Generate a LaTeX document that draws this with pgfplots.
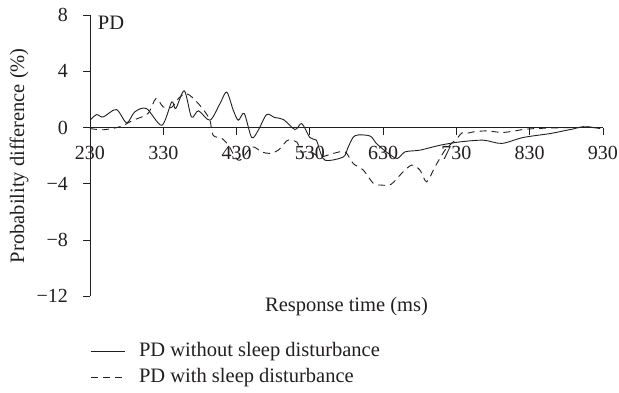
\documentclass[border=0pt]{standalone}
\usepackage{fontspec}
\setmainfont{Liberation Serif}
\usepackage{pgfplots}
\pgfplotsset{compat=1.18}
\definecolor{ink}{HTML}{231F20}
\begin{document}
\begin{tikzpicture}
\useasboundingbox (-90pt,-95.7pt) rectangle (529pt,296.3pt);
\begin{axis}[
  at={(0,0)}, anchor=south west,
  scale only axis, width=513pt, height=281.3pt,
  xmin=230, xmax=930, ymin=-12, ymax=8,
  axis x line*=middle, axis y line*=left,
  axis line style={ink, line width=0.8pt},
  xtick={230,330,430,530,630,730,830,930},
  xticklabels={230,330,430,530,630,730,830,930},
  ytick={-12,-8,-4,0,4,8},
  yticklabels={−12,−8,−4,0,4,8},
  hide obscured x ticks=false, hide obscured y ticks=false,
  tick align=outside, major tick length=7pt,
  tick style={ink, line width=0.8pt},
  every tick label/.append style={font=\fontsize{20}{24}\selectfont, text=ink},
  xticklabel style={inner sep=0pt, anchor=north, yshift=-11pt},
  yticklabel style={inner sep=0pt, anchor=east, xshift=-15pt},
  xlabel={Response time (ms)},
  ylabel={Probability difference (\%)},
  label style={font=\fontsize{20.5}{24}\selectfont, text=ink},
  xlabel style={at={(axis description cs:0.5,0)}, anchor=north, inner sep=0pt, yshift=-1pt},
  ylabel style={at={(axis description cs:-0.1384,0.5)}, anchor=center, inner sep=0pt},
  legend style={at={(axis description cs:0,-0.244)}, anchor=west, draw=none, fill=none,
    inner sep=0pt, font=\fontsize{20.5}{24}\selectfont, text=ink,
    nodes={inner sep=0pt, text height=14pt, text depth=4.5pt, anchor=west},
    row sep=7.5pt, column sep=14pt},
  legend cell align=left,
  legend image code/.code={\draw[#1] (0pt,0pt) -- (34pt,0pt);},
]
\addplot[ink, line width=0.9pt, smooth, tension=0.5] coordinates {
(230,0.52) (239,0.92) (248,0.75) (266,1.28) (280,0.33) (291,1.11) (307,1.35)
(328,0.16) (341.5,1.82) (347,1.35) (358.7,2.61) (368.5,0.75) (378,1.19)
(393.7,0.52) (407.4,1.70) (416.5,2.52) (425.5,1.23) (432.4,0.52) (440.5,0.99)
(450.6,-0.71) (459.6,-0.19) (471,0.92) (482,0.71) (494,0.57) (509.7,-0.14)
(519,0.28) (530,-0.71) (539,-0.90) (542,-1.38) (550.7,-2.32) (575.6,-2.09)
(582.4,-1.38) (591.6,-0.58) (612,-0.60) (620.3,-1.11) (634.8,-1.75)
(649,-2.20) (660,-1.73) (680,-1.61) (707.6,-1.26) (735,-1.02) (766.7,-0.90)
(791.8,-1.13) (821,-0.71) (857.7,-0.43) (876,-0.24) (889.5,-0.10)
(903,0.06) (926,-0.07)
};
\addlegendentry{PD without sleep disturbance}
\addplot[ink, line width=0.9pt, dash pattern=on 7pt off 5pt, smooth, tension=0.5] coordinates {
(230,-0.07) (248,-0.16) (271,0.06) (289,0.52) (309,0.99) (320,2.06) (330,1.46)
(341.5,1.44) (351.4,2.11) (361,2.41) (369,2.17) (378.7,1.65) (387,1.11)
(393.7,0.52) (398,-0.55) (410,-0.78) (419,-1.26) (426.5,-1.96) (434.7,-2.32)
(451,-1.38) (464,-1.73) (475.6,-1.84) (487,-1.61) (498.4,-0.95) (504,-0.90)
(512.4,-1.04) (519,-1.73) (530,-1.68) (543.8,-2.09) (562,-1.84) (578,-1.73)
(589,-2.55) (603,-3.03) (616.6,-3.97) (627,-4.09) (640.7,-4.04) (655.3,-3.26)
(669,-2.67) (680.3,-3.03) (689.4,-3.86) (700.8,-2.79) (714.4,-1.61)
(725.7,-1.02) (732.5,-0.67) (737.6,-0.38) (743,-0.43) (753,-0.31)
(771,-0.24) (792,-0.35) (807.6,-0.26) (826,-0.11) (862,-0.03) (898.6,0.00)
(907.7,0.06) (926,-0.07)
};
\addlegendentry{PD with sleep disturbance}
\node[anchor=west, inner sep=0pt, font=\fontsize{20.5}{24}\selectfont, text=ink] at (axis cs:240.5,7.44) {PD};
\end{axis}
\end{tikzpicture}
\end{document}
